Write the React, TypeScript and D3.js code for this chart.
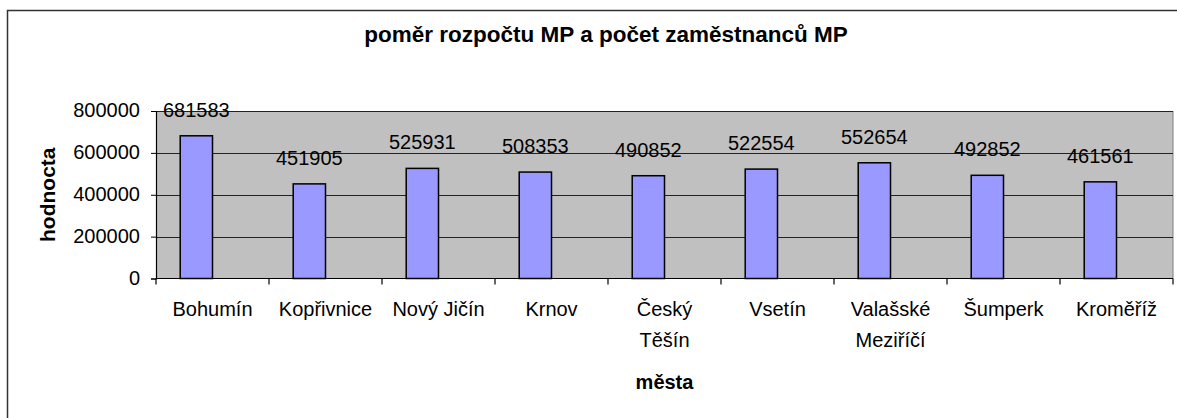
import React, { useEffect, useRef } from "react";
import * as d3 from "d3";

const title = "poměr rozpočtu MP a počet zaměstnanců MP";
const xTitle = "města";
const yTitle = "hodnocta";
const categories = ["Bohumín", "Kopřivnice", "Nový Jičín", "Krnov", "Český Těšín", "Vsetín", "Valašské Meziříčí", "Šumperk", "Kroměříž"];
// Excel wrapped these two labels onto two lines
const wrapped = ["Český Těšín", "Valašské Meziříčí"];
const series = ["rozpočet MP", "počet zaměstnanců MP"];
const budget = [681583, 451905, 525931, 508353, 490852, 522554, 552654, 492852, 461561];
const yTicks = [0, 200000, 400000, 600000, 800000];

const W = 1177;
const H = 418;
const FONT = "'Liberation Sans', Arial, sans-serif";

export default function App() {
  const ref = useRef<SVGSVGElement>(null);

  useEffect(() => {
    const svg = d3.select(ref.current);
    svg.selectAll("*").remove();

    const left = 156, right = 1173, top = 111, bottom = 278.5;

    const y = d3.scaleLinear().domain([0, 800000]).range([bottom, top]);
    const x0 = d3.scaleBand<string>().domain(categories).range([left, right]);
    const x1 = d3.scaleBand<string>().domain(series).range([0, x0.bandwidth()]).paddingOuter(0.75);

    // outer chart border (runs off the right and bottom edge)
    svg.append("rect")
      .attr("x", 7.5).attr("y", 10.5)
      .attr("width", 1200).attr("height", 430)
      .attr("fill", "#fff").attr("stroke", "#333").attr("stroke-width", 1.5);

    svg.append("text")
      .attr("x", 606).attr("y", 42)
      .attr("text-anchor", "middle")
      .attr("font-family", FONT).attr("font-weight", "bold").attr("font-size", 22.5)
      .text(title);

    // plot area
    svg.append("rect")
      .attr("x", left).attr("y", top)
      .attr("width", right - left).attr("height", bottom - top)
      .attr("fill", "#c0c0c0");
    svg.append("line")
      .attr("x1", right).attr("x2", right).attr("y1", top).attr("y2", bottom)
      .attr("stroke", "#808080").attr("stroke-width", 1);

    // gridlines
    svg.append("g").selectAll("line").data(yTicks.filter(d => d > 0)).join("line")
      .attr("x1", left).attr("x2", right)
      .attr("y1", d => Math.round(y(d)) + 0.5).attr("y2", d => Math.round(y(d)) + 0.5)
      .attr("stroke", "#222").attr("stroke-width", 1);

    // bars
    svg.append("g").selectAll("rect").data(budget).join("rect")
      .attr("x", (d, i) => x0(categories[i])! + x1(series[0])!)
      .attr("y", d => y(d))
      .attr("width", x1.bandwidth())
      .attr("height", d => bottom - y(d))
      .attr("fill", "#9999ff").attr("stroke", "#000").attr("stroke-width", 1.5);

    // value labels
    svg.append("g").selectAll("text").data(budget).join("text")
      .attr("x", (d, i) => x0(categories[i])! + x1(series[0])! + x1.bandwidth() / 2)
      .attr("y", d => y(d) - 19)
      .attr("text-anchor", "middle")
      .attr("font-family", FONT).attr("font-size", 20)
      .text(d => d);

    // y axis
    const yAxis = svg.append("g").attr("transform", `translate(${left},0)`)
      .call(d3.axisLeft(y).tickValues(yTicks).tickSize(5).tickPadding(11).tickFormat(d3.format("d")));
    yAxis.select(".domain").attr("stroke", "#000").attr("stroke-width", 1.2);
    yAxis.selectAll("text").attr("font-family", FONT).attr("font-size", 20).attr("fill", "#000").attr("dy", "0.28em");

    // x axis
    const xAxisG = svg.append("g");
    xAxisG.append("line")
      .attr("x1", left).attr("x2", right).attr("y1", bottom).attr("y2", bottom)
      .attr("stroke", "#000").attr("stroke-width", 1.2);
    const bounds = categories.map(c => x0(c)!).concat([right]);
    xAxisG.selectAll("line.tick").data(bounds).join("line")
      .attr("class", "tick")
      .attr("x1", d => d).attr("x2", d => d)
      .attr("y1", bottom).attr("y2", bottom + 6)
      .attr("stroke", "#000").attr("stroke-width", 1.2);

    const labels = xAxisG.selectAll("text.cat").data(categories).join("text")
      .attr("class", "cat")
      .attr("text-anchor", "middle")
      .attr("font-family", FONT).attr("font-size", 20)
      .attr("y", 316);
    labels.each(function (c) {
      const t = d3.select(this);
      const cx = x0(c)! + x0.bandwidth() / 2;
      const lines = wrapped.includes(c) ? c.split(" ") : [c];
      lines.forEach((l, i) => {
        t.append("tspan").attr("x", cx).attr("dy", i === 0 ? 0 : 31).text(l);
      });
    });

    svg.append("text")
      .attr("x", (left + right) / 2).attr("y", 389)
      .attr("text-anchor", "middle")
      .attr("font-family", FONT).attr("font-weight", "bold").attr("font-size", 20)
      .text(xTitle);

    svg.append("text")
      .attr("transform", `translate(54.5,${(top + bottom) / 2}) rotate(-90)`)
      .attr("text-anchor", "middle")
      .attr("font-family", FONT).attr("font-weight", "bold").attr("font-size", 21)
      .text(yTitle);
  }, []);

  return (
    <svg
      ref={ref}
      width={W}
      height={H}
      style={{ position: "absolute", left: 0, top: 0, background: "#fff" }}
    />
  );
}
